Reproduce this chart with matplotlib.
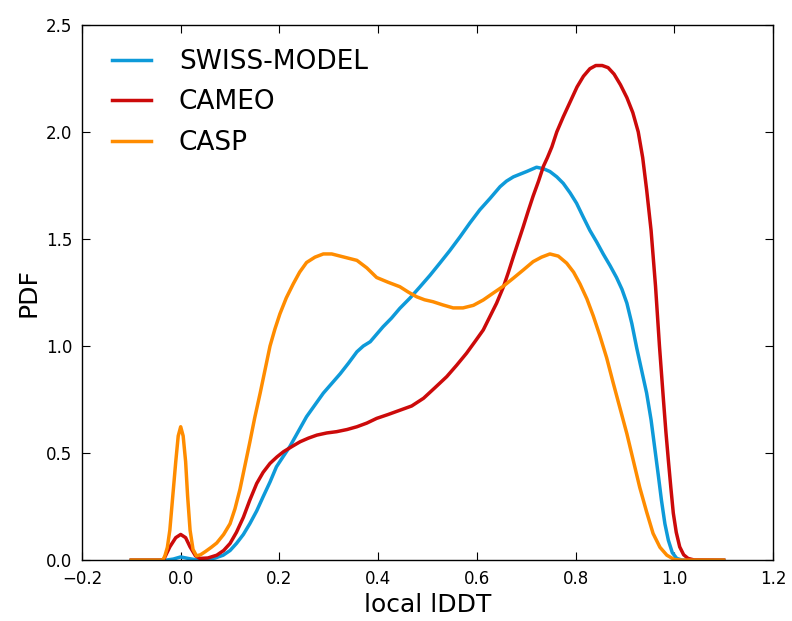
import numpy as np
import matplotlib
matplotlib.use('Agg')
import matplotlib.pyplot as plt

# densities (local lDDT vs PDF)
swiss_x = [-0.1, -0.03, -0.015, 0.0, 0.015, 0.03, 0.05, 0.07, 0.086, 0.1, 0.113, 0.127, 0.14,
           0.154, 0.167, 0.181, 0.194, 0.208, 0.221, 0.238, 0.255, 0.272, 0.289, 0.306, 0.323,
           0.34, 0.357, 0.37, 0.384, 0.397, 0.41, 0.427, 0.444, 0.465, 0.485, 0.505, 0.525,
           0.545, 0.566, 0.586, 0.606, 0.627, 0.647, 0.66, 0.674, 0.688, 0.701, 0.711, 0.721,
           0.735, 0.748, 0.762, 0.775, 0.789, 0.802, 0.815, 0.829, 0.843, 0.856, 0.87, 0.883,
           0.894, 0.904, 0.914, 0.924, 0.934, 0.944, 0.953, 0.961, 0.968, 0.974, 0.981, 0.988,
           0.996, 1.005, 1.015, 1.03, 1.1]
swiss_y = [0.0, 0.0, 0.005, 0.015, 0.008, 0.002, 0.002, 0.01, 0.023, 0.045, 0.078, 0.12, 0.17,
           0.23, 0.296, 0.365, 0.436, 0.485, 0.53, 0.6, 0.67, 0.725, 0.78, 0.825, 0.87,
           0.92, 0.973, 1.0, 1.02, 1.055, 1.09, 1.13, 1.176, 1.225, 1.277, 1.33, 1.387,
           1.445, 1.51, 1.575, 1.636, 1.69, 1.744, 1.77, 1.79, 1.803, 1.815, 1.825, 1.835,
           1.828, 1.815, 1.79, 1.76, 1.715, 1.667, 1.605, 1.54, 1.485, 1.43, 1.375, 1.32,
           1.265, 1.2, 1.105, 0.99, 0.885, 0.78, 0.655, 0.514, 0.39, 0.28, 0.17, 0.093,
           0.035, 0.008, 0.001, 0.0, 0.0]

cameo_x = [-0.1, -0.035, -0.022, -0.01, 0.0, 0.01, 0.019, 0.03, 0.039, 0.055, 0.073, 0.087,
           0.1, 0.113, 0.127, 0.14, 0.154, 0.167, 0.181, 0.195, 0.208, 0.225, 0.242, 0.259,
           0.276, 0.296, 0.316, 0.337, 0.357, 0.377, 0.397, 0.42, 0.444, 0.468, 0.492, 0.515,
           0.539, 0.559, 0.579, 0.596, 0.613, 0.627, 0.64, 0.654, 0.664, 0.674, 0.684, 0.694,
           0.704, 0.714, 0.725, 0.735, 0.743, 0.752, 0.762, 0.775, 0.789, 0.803, 0.816, 0.829,
           0.841, 0.854, 0.866, 0.878, 0.891, 0.904, 0.916, 0.927, 0.936, 0.944, 0.953, 0.962,
           0.97, 0.978, 0.983, 0.988, 0.993, 0.998, 1.004, 1.011, 1.019, 1.028, 1.04, 1.1]
cameo_y = [0.0, 0.0, 0.062, 0.105, 0.12, 0.105, 0.062, 0.02, 0.008, 0.01, 0.023, 0.045,
           0.078, 0.13, 0.2, 0.28, 0.358, 0.41, 0.452, 0.482, 0.506, 0.53, 0.553, 0.57,
           0.584, 0.594, 0.6, 0.61, 0.623, 0.64, 0.662, 0.68, 0.70, 0.72, 0.756, 0.805,
           0.857, 0.91, 0.966, 1.02, 1.075, 1.14, 1.2, 1.277, 1.345, 1.417, 1.487, 1.557,
           1.63, 1.70, 1.77, 1.84, 1.88, 1.93, 2.0, 2.07, 2.14, 2.21, 2.26, 2.295,
           2.31, 2.31, 2.3, 2.27, 2.22, 2.16, 2.09, 2.0, 1.88, 1.73, 1.54, 1.28,
           1.0, 0.75, 0.6, 0.467, 0.34, 0.22, 0.13, 0.062, 0.025, 0.008, 0.001, 0.0]

casp_x = [-0.1, -0.036, -0.032, -0.027, -0.022, -0.016, -0.01, -0.005, 0.0, 0.005, 0.01,
          0.014, 0.019, 0.025, 0.032, 0.04, 0.05, 0.062, 0.073, 0.087, 0.1, 0.11, 0.12, 0.13,
          0.14, 0.15, 0.161, 0.171, 0.181, 0.191, 0.201, 0.214, 0.228, 0.241, 0.255, 0.272,
          0.289, 0.306, 0.323, 0.34, 0.357, 0.377, 0.397, 0.42, 0.444, 0.461, 0.478, 0.494,
          0.511, 0.531, 0.552, 0.572, 0.593, 0.613, 0.633, 0.654, 0.674, 0.694, 0.714, 0.731,
          0.748, 0.765, 0.782, 0.796, 0.809, 0.823, 0.836, 0.849, 0.863, 0.876, 0.89, 0.904,
          0.917, 0.93, 0.944, 0.957, 0.971, 0.985, 1.0, 1.015, 1.1]
casp_y = [0.0, 0.0, 0.02, 0.06, 0.14, 0.3, 0.46, 0.58, 0.623, 0.58, 0.46, 0.3,
          0.14, 0.05, 0.02, 0.025, 0.04, 0.06, 0.08, 0.12, 0.17, 0.24, 0.33, 0.44,
          0.55, 0.665, 0.78, 0.89, 1.0, 1.08, 1.15, 1.225, 1.29, 1.345, 1.39, 1.415,
          1.43, 1.43, 1.42, 1.41, 1.40, 1.365, 1.32, 1.298, 1.277, 1.252, 1.23, 1.216,
          1.207, 1.192, 1.178, 1.178, 1.19, 1.215, 1.247, 1.28, 1.317, 1.355, 1.394, 1.415,
          1.43, 1.42, 1.387, 1.345, 1.29, 1.22, 1.14, 1.05, 0.945, 0.83, 0.71, 0.59,
          0.465, 0.34, 0.225, 0.125, 0.06, 0.023, 0.003, 0.0, 0.0]

labels = ['SWISS-MODEL', 'CAMEO', 'CASP']
colors = ['#0e9ad9', '#cc0a0a', '#ff8c00']

fig = plt.figure(figsize=(7.92, 6.21), dpi=100)
ax = fig.add_axes([0.1035, 0.098, 0.8725, 0.862])

for xs, ys, lab, c in zip([swiss_x, cameo_x, casp_x], [swiss_y, cameo_y, casp_y], labels, colors):
    ax.plot(xs, ys, color=c, lw=2.5, label=lab, solid_joinstyle='round')

ax.set_xlim(-0.2, 1.2)
ax.set_ylim(0, 2.5)
ax.set_xticks(np.arange(-0.2, 1.21, 0.2))
ax.set_yticks(np.arange(0, 2.51, 0.5))
ax.set_xticklabels(['\u22120.2', '0.0', '0.2', '0.4', '0.6', '0.8', '1.0', '1.2'])
ax.set_yticklabels(['0.0', '0.5', '1.0', '1.5', '2.0', '2.5'])
ax.tick_params(direction='in', top=True, right=True, length=6, labelsize=12, pad=7)
for s in ax.spines.values():
    s.set_linewidth(1.0)
ax.set_xlabel('local lDDT', fontsize=18)
ax.set_ylabel('PDF', fontsize=18)
ax.legend(loc='upper left', frameon=False, fontsize=19, handlelength=1.5,
          handletextpad=1.05, borderaxespad=0, borderpad=0, labelspacing=0.55,
          bbox_to_anchor=(0.043, 0.955))

plt.savefig('out.png', dpi=100)
